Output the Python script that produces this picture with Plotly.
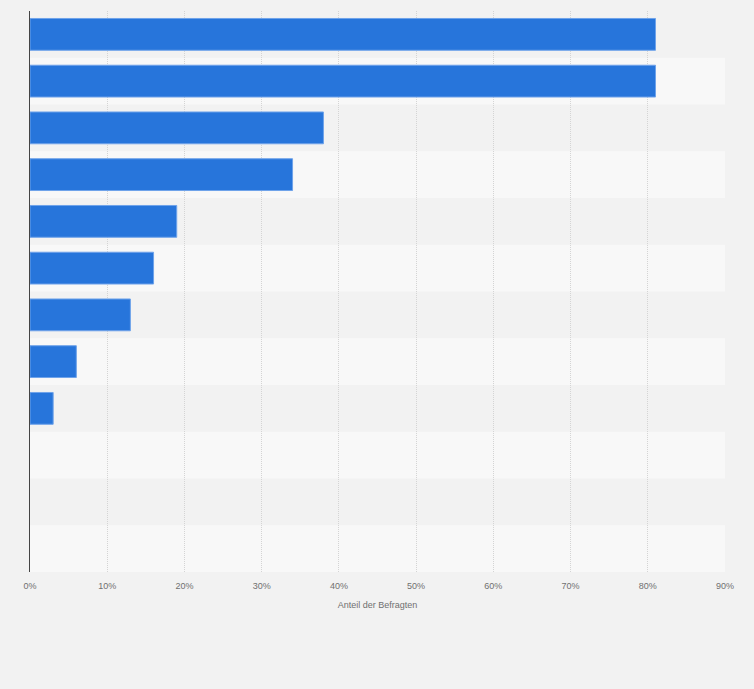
import plotly.graph_objects as go

# Kategorien ohne sichtbare Beschriftung (im Original ausgeblendet)
categories = ["Antwort 1", "Antwort 2", "Antwort 3", "Antwort 4", "Antwort 5", "Antwort 6",
              "Antwort 7", "Antwort 8", "Antwort 9", "Antwort 10", "Antwort 11", "Antwort 12"]
values = [81, 81, 38, 34, 19, 16, 13, 6, 3, None, None, None]
tick_vals = [0, 10, 20, 30, 40, 50, 60, 70, 80, 90]
tick_text = ["0%", "10%", "20%", "30%", "40%", "50%", "60%", "70%", "80%", "90%"]

fig = go.Figure()

fig.add_trace(go.Bar(
    x=values,
    y=categories,
    orientation="h",
    width=0.68,
    marker=dict(color="#2775db", line=dict(color="#6fa3ea", width=1)),
    hoverinfo="x+y",
))

# abwechselnde Zeilenstreifen im Hintergrund
shapes = []
for i, cat in enumerate(categories):
    if i % 2 == 0:
        shapes.append(dict(
            type="rect", xref="paper", yref="y",
            x0=0, x1=1, y0=i - 0.5, y1=i + 0.5,
            fillcolor="#f2f2f2", line=dict(width=0), layer="below",
        ))

fig.update_layout(
    width=754,
    height=689,
    margin=dict(l=30, r=29, t=11, b=117),
    paper_bgcolor="#f2f2f2",
    plot_bgcolor="#f8f8f8",
    showlegend=False,
    shapes=shapes,
    font=dict(family="Liberation Sans, Arial, sans-serif", size=10, color="#666666"),
)

fig.update_xaxes(
    range=[0, 90],
    tickvals=tick_vals,
    ticktext=tick_text,
    showgrid=True,
    gridcolor="#d4d4d4",
    griddash="1px,1px",
    gridwidth=1,
    zeroline=False,
    ticks="",
    ticklabelstandoff=7,
    tickfont=dict(size=9, color="#707070"),
    title=dict(text="Anteil der Befragten", font=dict(size=9, color="#707070"), standoff=11),
    fixedrange=True,
)

fig.update_yaxes(
    categoryorder="array",
    categoryarray=categories,
    autorange="reversed",
    showticklabels=False,
    showgrid=False,
    zeroline=False,
    showline=True,
    linecolor="#444444",
    linewidth=1,
    ticks="",
    fixedrange=True,
)

# Seitenrand entfernen, damit die Grafik das Fenster ausfüllt
fig.write_html(
    "out.html",
    config={"displayModeBar": False},
    post_script="document.body.style.margin='0';document.body.style.background='#f2f2f2';",
)
